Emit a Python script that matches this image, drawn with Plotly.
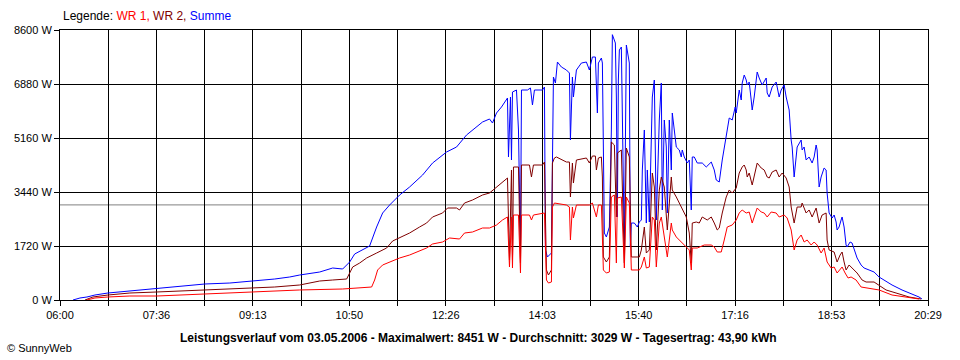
import pandas as pd
import plotly.graph_objects as go

DAY = "2006-05-03 "

# x-axis tick labels (every second gridline)
tick_labels = ["06:00", "07:36", "09:13", "10:50", "12:26", "14:03", "15:40", "17:16", "18:53", "20:29"]
y_ticks = [0, 1720, 3440, 5160, 6880, 8600]
y_tick_labels = ["0 W", "1720 W", "3440 W", "5160 W", "6880 W", "8600 W"]
average_w = 3029

# WR 1 (red)
wr1_time = ["06:27","06:35","06:48","07:10","07:37","08:00","08:25","08:50","09:13","09:35","10:00","10:43","10:57","11:12","11:15","11:18","11:23","11:30","11:40","11:50","11:57","12:07","12:13","12:23","12:30","12:40","12:45","12:53","13:03","13:10","13:17","13:23","13:28","13:30","13:32","13:33","13:34","13:39","13:41","13:42","13:50","13:52","13:54","14:05","14:07","14:09","14:12","14:13","14:15","14:27","14:30","14:31","14:33","14:34","14:37","14:50","14:53","14:57","14:59","15:02","15:03","15:04","15:07","15:10","15:12","15:15","15:17","15:18","15:22","15:25","15:27","15:30","15:32","15:40","15:42","15:45","15:47","15:50","15:53","15:55","15:57","16:00","16:02","16:05","16:08","16:12","16:13","16:17","16:20","16:23","16:28","16:30","16:32","16:33","16:38","16:45","16:52","16:55","16:58","17:02","17:05","17:08","17:13","17:17","17:20","17:23","17:27","17:30","17:33","17:35","17:38","17:42","17:45","17:48","17:52","17:57","18:00","18:05","18:08","18:12","18:15","18:18","18:22","18:25","18:28","18:32","18:35","18:38","18:42","18:45","18:48","18:52","18:55","18:58","19:02","19:03","19:06","19:09","19:12","19:17","19:22","19:30","19:40","19:53","20:07","20:20"]
wr1_w = [0,64,96,127,127,159,191,223,255,287,319,350,382,414,637,956,1115,1210,1338,1433,1529,1656,1784,1847,1975,1943,2134,2166,2293,2293,2389,2548,2644,1051,2644,1019,2707,2707,860,2707,2707,2548,2707,2771,637,541,573,2962,3089,3026,2962,1911,2962,2612,3026,3026,3089,2644,3026,3026,2007,956,860,892,3281,3344,1178,3249,3281,1019,3281,3089,956,956,1051,1370,1019,1051,2644,2548,1051,2452,2644,2007,1370,2452,2230,2007,1911,1815,1688,1593,956,1656,1656,1752,1752,1688,1529,1529,1911,2325,2389,2548,2771,2867,2771,2803,2452,2644,2930,2803,2771,2644,2803,2771,2644,2707,2612,2230,1593,1911,2070,1847,1911,1752,1847,1752,1497,1656,1210,1019,1051,860,1019,1051,860,701,733,637,414,382,319,159,96,32]

# WR 2 (dark red)
wr2_time = ["06:25","06:33","06:48","07:10","07:37","08:00","08:25","08:50","09:13","09:35","10:00","10:20","10:33","10:47","10:50","10:53","11:00","11:07","11:17","11:27","11:33","11:40","11:50","12:00","12:07","12:13","12:23","12:28","12:37","12:40","12:45","12:53","13:03","13:10","13:17","13:23","13:28","13:30","13:32","13:33","13:34","13:39","13:41","13:42","13:50","13:52","13:54","14:03","14:05","14:07","14:09","14:12","14:13","14:15","14:17","14:27","14:30","14:31","14:33","14:34","14:37","14:47","14:50","14:53","14:56","14:57","14:59","15:02","15:03","15:04","15:07","15:10","15:12","15:15","15:17","15:18","15:22","15:25","15:27","15:30","15:32","15:40","15:42","15:45","15:47","15:50","15:53","15:55","15:57","16:00","16:02","16:05","16:08","16:12","16:13","16:17","16:20","16:23","16:27","16:30","16:32","16:33","16:37","16:40","16:43","16:48","16:52","16:55","16:58","17:00","17:03","17:07","17:10","17:13","17:17","17:20","17:23","17:25","17:27","17:28","17:30","17:33","17:35","17:38","17:42","17:45","17:48","17:50","17:53","17:57","18:00","18:03","18:07","18:10","18:12","18:15","18:18","18:22","18:23","18:27","18:30","18:33","18:37","18:40","18:43","18:47","18:48","18:50","18:55","18:58","19:01","19:03","19:05","19:07","19:10","19:13","19:18","19:23","19:27","19:35","19:40","19:47","19:57","20:10","20:22"]
wr2_w = [0,96,159,223,255,287,319,350,382,414,478,605,637,669,860,1051,1178,1338,1497,1656,1879,1975,2134,2325,2452,2644,2771,2930,2930,2867,3089,3185,3344,3408,3599,3758,3886,1274,4141,1274,4236,4236,1178,4300,4300,3918,4300,4300,4395,956,796,956,4363,4523,4555,4395,4395,3281,4363,3726,4459,4523,4363,4586,4586,4141,4523,4555,3918,1370,1210,1370,5032,4937,2644,4682,4778,1178,4841,4555,1370,1370,1593,2325,1497,1593,4045,3599,1593,3504,3918,3599,2230,3918,3504,3281,3089,2867,2644,2134,1178,2452,2484,2452,2644,2548,2644,2452,2230,2293,2771,3281,3504,3408,3567,4045,4236,4300,4141,3918,4045,3663,3918,4363,4204,4141,3918,3886,4077,4141,3918,4045,3886,3599,2962,2452,2962,2962,3089,2771,2867,2644,2930,2452,2707,2771,1911,1593,1529,1210,1433,1529,1210,956,1115,1019,860,637,573,573,478,319,223,96,32]

# Summe (blue)
sum_time = ["06:13","06:20","06:27","06:35","06:48","07:10","07:37","08:00","08:25","08:50","09:13","09:35","09:50","10:00","10:20","10:33","10:43","10:50","10:55","11:02","11:10","11:17","11:23","11:30","11:40","11:50","12:03","12:13","12:27","12:37","12:47","13:03","13:10","13:13","13:17","13:22","13:25","13:28","13:29","13:31","13:32","13:33","13:37","13:39","13:41","13:42","13:48","13:51","13:53","13:55","14:03","14:05","14:06","14:08","14:12","14:13","14:14","14:16","14:18","14:22","14:27","14:30","14:31","14:33","14:34","14:37","14:42","14:47","14:50","14:53","14:56","14:58","14:59","15:02","15:03","15:05","15:07","15:10","15:12","15:13","15:16","15:17","15:18","15:19","15:20","15:22","15:23","15:25","15:27","15:28","15:30","15:31","15:32","15:35","15:38","15:40","15:42","15:43","15:45","15:47","15:48","15:50","15:53","15:55","15:57","16:00","16:02","16:03","16:05","16:07","16:08","16:10","16:12","16:13","16:15","16:17","16:20","16:22","16:23","16:25","16:28","16:30","16:32","16:33","16:35","16:38","16:43","16:47","16:52","16:55","16:57","17:00","17:03","17:07","17:10","17:13","17:16","17:17","17:20","17:22","17:23","17:25","17:27","17:28","17:30","17:32","17:33","17:35","17:37","17:38","17:40","17:43","17:47","17:48","17:50","17:53","17:57","18:00","18:02","18:05","18:07","18:10","18:12","18:13","18:15","18:18","18:22","18:23","18:25","18:27","18:30","18:33","18:35","18:37","18:38","18:40","18:42","18:45","18:47","18:48","18:50","18:53","18:55","18:57","18:58","19:00","19:02","19:03","19:05","19:07","19:08","19:11","19:13","19:15","19:18","19:22","19:25","19:30","19:35","19:40","19:45","19:53","20:03","20:13","20:20","20:23"]
sum_w = [0,64,96,159,223,287,382,446,510,541,605,669,733,796,892,1019,987,1210,1465,1593,1720,2325,2771,3026,3344,3599,3981,4363,4714,4873,5255,5669,5765,5637,5956,6147,6306,6434,4555,6466,4459,6625,6689,5415,1593,6689,6689,6752,6211,6689,6689,6784,1593,1370,1497,4363,7103,6911,7580,7421,7326,7230,5096,7103,6466,7326,7548,7580,7326,7740,7740,5956,7548,7708,7548,2134,2007,2325,5415,8451,8185,6466,2644,7007,7963,8058,5415,1593,8122,7963,7548,1688,2452,2452,2325,2484,2548,4141,5415,2452,4141,2484,6466,7007,2548,5733,6911,2867,5733,4873,2771,5733,4141,5956,5319,4873,4778,4555,4778,4555,4363,4459,2867,4555,4555,4363,4363,4236,4395,4141,3822,3758,4459,5192,5797,5733,6147,5956,6689,6370,6911,7166,7007,6848,6943,6370,6052,6466,7103,7262,7071,6848,7071,6593,6466,6784,6943,6466,6689,6848,6466,6052,5096,4873,3918,4873,5096,4778,4873,4459,4555,4363,4555,4937,4778,3599,3918,4204,4141,3408,2771,2612,2707,2484,2230,2325,2548,2644,2325,1752,1688,1847,1815,1593,1338,1115,1019,956,892,733,637,478,319,191,96,32]

def to_dt(times):
    return pd.to_datetime([DAY + t for t in times])

start = pd.Timestamp(DAY + "06:00")
end = pd.Timestamp(DAY + "20:29")
grid_vals = pd.date_range(start, end, periods=2 * len(tick_labels) - 1)
grid_text = []
for i in range(len(grid_vals)):
    grid_text.append(tick_labels[i // 2] if i % 2 == 0 else "")

fig = go.Figure()
fig.add_trace(go.Scatter(x=to_dt(sum_time), y=sum_w, mode="lines",
                         line=dict(color="#0000FF", width=1), name="Summe"))
fig.add_trace(go.Scatter(x=to_dt(wr2_time), y=wr2_w, mode="lines",
                         line=dict(color="#800000", width=1), name="WR 2"))
fig.add_trace(go.Scatter(x=to_dt(wr1_time), y=wr1_w, mode="lines",
                         line=dict(color="#FF0000", width=1), name="WR 1"))

fig.add_shape(type="line", xref="paper", x0=0, x1=1, yref="y", y0=average_w, y1=average_w,
              line=dict(color="#808080", width=1), layer="between")

font_family = "Liberation Sans, Arial, sans-serif"
fig.update_layout(
    width=960, height=360,
    margin=dict(l=60, r=32, t=30, b=60),
    paper_bgcolor="white", plot_bgcolor="white",
    showlegend=False,
    font=dict(family=font_family, size=11, color="black"),
    xaxis=dict(type="date", range=[start, end], tickmode="array",
               tickvals=grid_vals, ticktext=grid_text,
               showgrid=True, gridcolor="black", gridwidth=1,
               ticks="outside", ticklen=5, tickcolor="black", tickwidth=1,
               showline=True, linecolor="black", linewidth=1, mirror=True,
               zeroline=False, tickfont=dict(size=11)),
    yaxis=dict(range=[0, 8600], tickmode="array", tickvals=y_ticks, ticktext=y_tick_labels,
               showgrid=True, gridcolor="black", gridwidth=1,
               ticks="outside", ticklen=5, tickcolor="black", tickwidth=1,
               showline=True, linecolor="black", linewidth=1, mirror=True,
               zeroline=False, tickfont=dict(size=11)),
)

fig.add_annotation(xref="paper", yref="paper", x=(61 - 60) / 868, y=(300 - 16) / 270,
                   xanchor="left", yanchor="middle", showarrow=False,
                   text="Legende: <span style='color:#FF0000'>WR 1,</span> "
                        "<span style='color:#800000'>WR 2,</span> "
                        "<span style='color:#0000FF'>Summe</span>",
                   font=dict(size=12, color="black"))
fig.add_annotation(xref="paper", yref="paper", x=(478 - 60) / 868, y=(300 - 338) / 270,
                   xanchor="center", yanchor="middle", showarrow=False,
                   text="<b>Leistungsverlauf vom 03.05.2006 - Maximalwert: 8451 W - "
                        "Durchschnitt: 3029 W - Tagesertrag: 43,90 kWh</b>",
                   font=dict(size=12, color="black"))
fig.add_annotation(xref="paper", yref="paper", x=(5 - 60) / 868, y=(300 - 348) / 270,
                   xanchor="left", yanchor="middle", showarrow=False,
                   text="© SunnyWeb", font=dict(size=11, color="black"))

fig.write_html("out.html", config={"displayModeBar": False},
               post_script="document.body.style.margin='0';")
